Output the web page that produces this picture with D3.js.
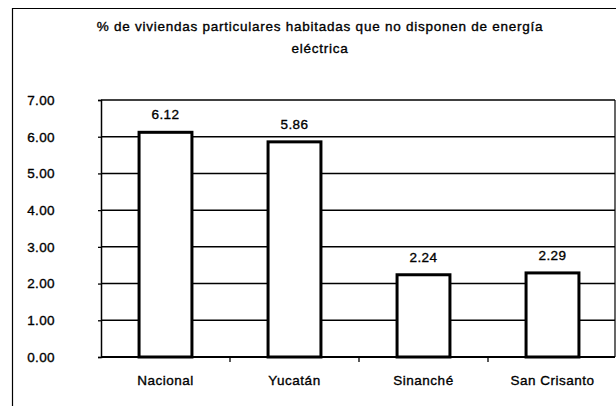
<!DOCTYPE html>
<html><head><meta charset="utf-8">
<script src="https://cdn.jsdelivr.net/npm/d3@7"></script>
<style>
html,body{margin:0;padding:0;background:#fff;}
svg{display:block;font-family:"Liberation Sans",Arial,sans-serif;}
svg text{stroke:#000;stroke-width:0.35px;fill:#000;}
</style></head>
<body>
<svg id="chart" width="616" height="406"></svg>
<script>
const titleLines = ["% de viviendas particulares habitadas que no disponen de energía", "eléctrica"];
const categories = ["Nacional", "Yucatán", "Sinanché", "San Crisanto"];
const values = [6.12, 5.86, 2.24, 2.29];
const valueLabels = ["6.12", "5.86", "2.24", "2.29"];
const yTicks = [0, 1, 2, 3, 4, 5, 6, 7];

const svg = d3.select("#chart");
const W = 616, H = 406;
const plot = {left: 101, right: 615, top: 100, bottom: 357};

// outer chart frame
svg.append("path")
  .attr("d", `M12.5,${H} L12.5,8.5 L${W},8.5`)
  .attr("fill", "none").attr("stroke", "#000").attr("stroke-width", 1.2);

// title
svg.append("g").selectAll("text").data(titleLines).join("text")
  .attr("x", 320).attr("y", (d, i) => 31 + i * 22)
  .attr("text-anchor", "middle")
  .attr("font-size", 13.5).attr("letter-spacing", 0.75)
  .text(d => d);

const x = d3.scaleBand().domain(categories)
  .range([plot.left, plot.left + 516])
  .paddingInner(0.59).paddingOuter(0.295);
const y = d3.scaleLinear().domain([0, 7]).range([plot.bottom, plot.top]);

// gridlines
svg.append("g").selectAll("line").data(yTicks.filter(t => t > 0)).join("line")
  .attr("x1", plot.left).attr("x2", plot.right)
  .attr("y1", d => y(d)).attr("y2", d => y(d))
  .attr("stroke", "#000").attr("stroke-width", 1.5);

// right plot edge
svg.append("line")
  .attr("x1", plot.right).attr("x2", plot.right)
  .attr("y1", plot.top).attr("y2", plot.bottom)
  .attr("stroke", "#000").attr("stroke-width", 1.2);

// bars
svg.append("g").selectAll("rect").data(values).join("rect")
  .attr("x", (d, i) => x(categories[i]))
  .attr("width", x.bandwidth())
  .attr("y", d => y(d))
  .attr("height", d => y(0) - y(d))
  .attr("fill", "#fff").attr("stroke", "#000").attr("stroke-width", 3);

// value labels
svg.append("g").selectAll("text").data(values).join("text")
  .attr("x", (d, i) => x(categories[i]) + x.bandwidth() / 2)
  .attr("y", d => y(d) - 13)
  .attr("text-anchor", "middle")
  .attr("font-size", 13.5).attr("letter-spacing", 0.4)
  .text((d, i) => valueLabels[i]);

// y axis
const yAxis = svg.append("g").attr("transform", `translate(${plot.left},0)`)
  .call(d3.axisLeft(y).tickValues(yTicks).tickFormat(d3.format(".2f")).tickSize(3).tickPadding(43));
yAxis.select(".domain").attr("stroke", "#000").attr("stroke-width", 1.5);
yAxis.selectAll(".tick line").attr("stroke", "#000").attr("stroke-width", 1.3);
yAxis.selectAll("text").attr("font-size", 13.5).attr("letter-spacing", 0.4)
  .attr("font-family", "Liberation Sans, Arial, sans-serif").attr("fill", "#000");

// x axis baseline
svg.append("line")
  .attr("x1", plot.left).attr("x2", plot.right)
  .attr("y1", y(0)).attr("y2", y(0))
  .attr("stroke", "#000").attr("stroke-width", 2.2);

// category boundary ticks
const bounds = d3.range(categories.length + 1).map(i => plot.left + i * x.step());
svg.append("g").selectAll("line").data(bounds.slice(1, categories.length)).join("line")
  .attr("x1", d => d).attr("x2", d => d)
  .attr("y1", y(0)).attr("y2", y(0) + 5)
  .attr("stroke", "#000").attr("stroke-width", 1.3);

// category labels
svg.append("g").selectAll("text").data(categories).join("text")
  .attr("x", d => x(d) + x.bandwidth() / 2)
  .attr("y", 385)
  .attr("text-anchor", "middle")
  .attr("font-size", 13.5).attr("letter-spacing", 0.5)
  .text(d => d);
</script>
</body></html>
